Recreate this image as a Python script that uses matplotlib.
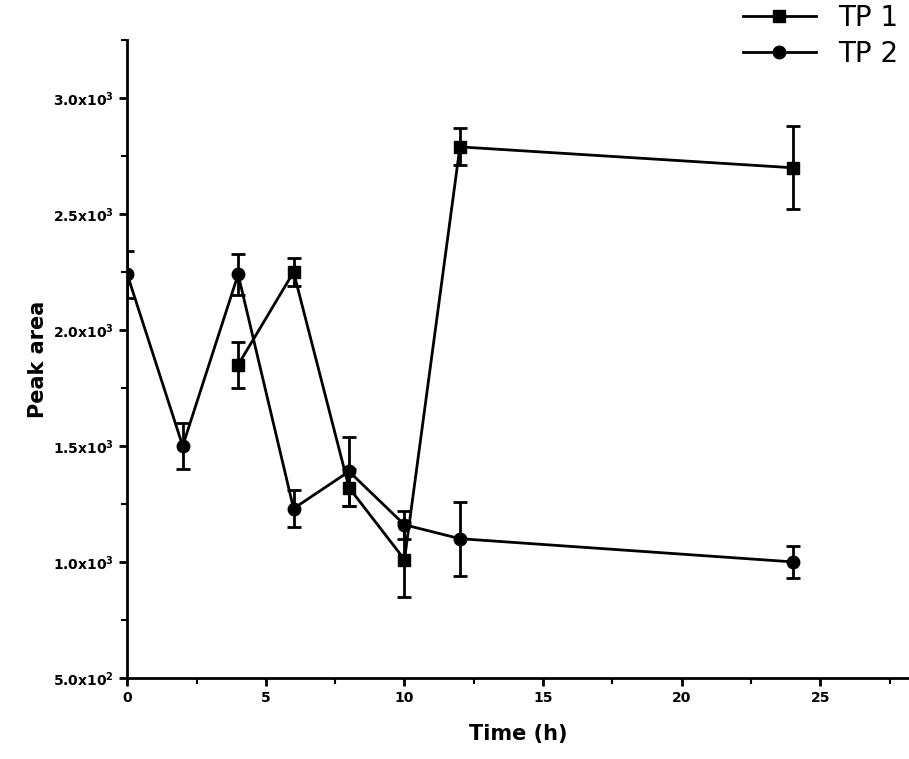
import matplotlib
matplotlib.use("Agg")
import matplotlib.pyplot as plt
from matplotlib.lines import Line2D
from matplotlib.ticker import FixedLocator, FuncFormatter, MultipleLocator

t1 = [4, 6, 8, 10, 12, 24]
y1 = [1850, 2250, 1320, 1010, 2790, 2700]
e1 = [100, 60, 80, 160, 80, 180]
t2 = [0, 2, 4, 6, 8, 10, 12, 24]
y2 = [2240, 1500, 2240, 1230, 1390, 1160, 1100, 1000]
e2 = [100, 100, 90, 80, 150, 60, 160, 70]
yticks = [500, 1000, 1500, 2000, 2500, 3000]

fig = plt.figure(figsize=(9.09, 7.59), dpi=100)
ax = fig.add_axes([0.14, 0.107, 0.86, 0.84])
kw = dict(color='black', lw=2, capsize=5, capthick=2, elinewidth=2, markersize=9)
ax.errorbar(t1, y1, yerr=e1, marker='s', **kw)
ax.errorbar(t2, y2, yerr=e2, marker='o', **kw)
ax.set_xlim(0, 28.2)
ax.set_ylim(500, 3250)
ax.spines['top'].set_visible(False)
ax.spines['right'].set_visible(False)
for s in ['left', 'bottom']:
    ax.spines[s].set_linewidth(2)
ax.xaxis.set_major_locator(MultipleLocator(5))
ax.xaxis.set_minor_locator(MultipleLocator(2.5))
ax.yaxis.set_major_locator(FixedLocator(yticks))
ax.yaxis.set_minor_locator(MultipleLocator(250))
def fmt(v, p):
    e = len(str(int(v))) - 1
    m = v / 10**e
    return r'%.1fx10$^{\mathbf{%d}}$' % (m, e)
ax.yaxis.set_major_formatter(FuncFormatter(fmt))
ax.tick_params(which='major', length=6, width=2)
ax.tick_params(which='minor', length=4, width=1.5)
for lb in ax.get_xticklabels() + ax.get_yticklabels():
    lb.set_fontweight('bold')
ax.set_xlabel('Time (h)', fontsize=15, fontweight='bold', labelpad=14)
ax.set_ylabel('Peak area', fontsize=15, fontweight='bold')
handles = [Line2D([], [], color='black', lw=2, marker='s', markersize=9),
           Line2D([], [], color='black', lw=2, marker='o', markersize=9)]
ax.legend(handles, ['TP 1', 'TP 2'], loc='upper right', bbox_to_anchor=(1.0, 1.075),
          frameon=False, fontsize=20, handlelength=2.6, borderaxespad=0, labelspacing=0.3)
fig.savefig('out.png', dpi=100)
